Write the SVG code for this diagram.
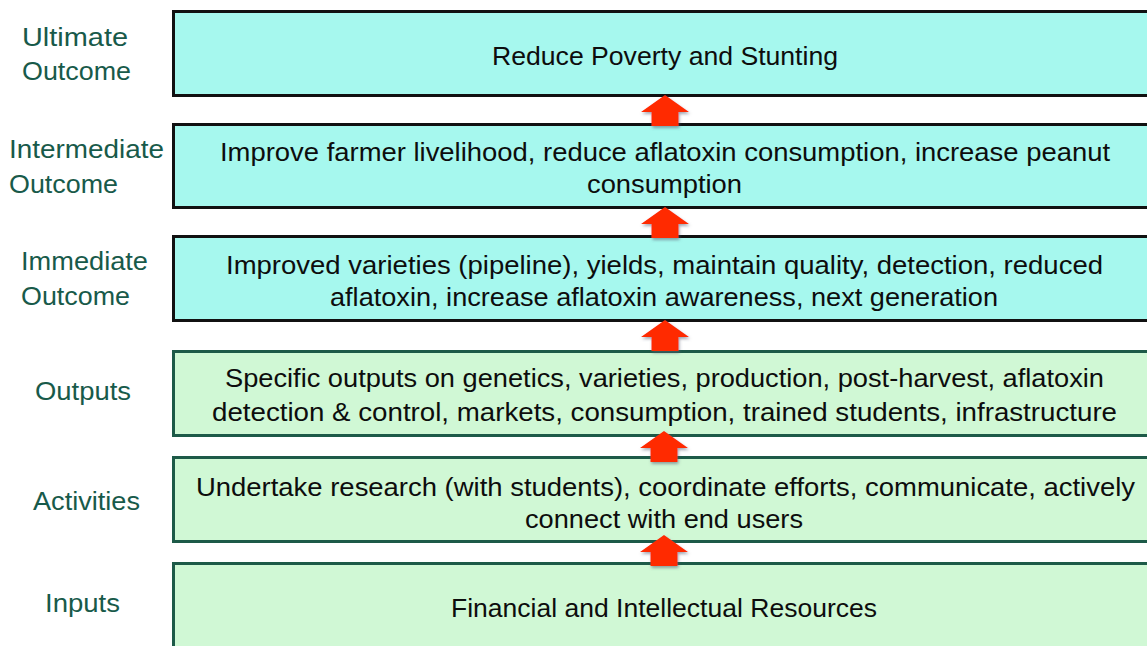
<svg xmlns="http://www.w3.org/2000/svg" width="1147" height="646" viewBox="0 0 1147 646">
  <defs>
    <style>
      .box { stroke-width: 3; }
      .outcome { fill: #a6f8ee; stroke: #111111; }
      .work { fill: #d0f8d5; stroke: #1d5a48; }
      .txt { font-family: "Liberation Sans", Arial, sans-serif; font-size: 26px; fill: #0d0d0d; }
      .lbl { font-family: "Liberation Sans", Arial, sans-serif; font-size: 26px; fill: #185a4a; }
      .up { fill: #ff2a00; filter: url(#shadow); }
    </style>
    <filter id="shadow" x="-30%" y="-30%" width="160%" height="170%">
      <feGaussianBlur in="SourceAlpha" stdDeviation="1.5"/>
      <feOffset dx="1" dy="2" result="off"/>
      <feFlood flood-color="#555a70" flood-opacity="0.55"/>
      <feComposite in2="off" operator="in"/>
      <feMerge>
        <feMergeNode/>
        <feMergeNode in="SourceGraphic"/>
      </feMerge>
    </filter>
    <path id="arrow" d="M0 0 L24 17 L13.5 17 L13.5 31 L-13.5 31 L-13.5 17 L-24 17 Z"/>
  </defs>
  <rect width="1147" height="646" fill="#ffffff"/>

  <!-- Row labels -->
  <g id="labels">
    <text class="lbl" x="22" y="46" textLength="106" lengthAdjust="spacingAndGlyphs">Ultimate</text>
    <text class="lbl" x="22" y="80" textLength="109" lengthAdjust="spacingAndGlyphs">Outcome</text>
    <text class="lbl" x="9" y="158" textLength="155" lengthAdjust="spacingAndGlyphs">Intermediate</text>
    <text class="lbl" x="9" y="193" textLength="109" lengthAdjust="spacingAndGlyphs">Outcome</text>
    <text class="lbl" x="21" y="270" textLength="127" lengthAdjust="spacingAndGlyphs">Immediate</text>
    <text class="lbl" x="21" y="305" textLength="109" lengthAdjust="spacingAndGlyphs">Outcome</text>
    <text class="lbl" x="35" y="400" textLength="96" lengthAdjust="spacingAndGlyphs">Outputs</text>
    <text class="lbl" x="33" y="510" textLength="107" lengthAdjust="spacingAndGlyphs">Activities</text>
    <text class="lbl" x="45" y="612" textLength="75" lengthAdjust="spacingAndGlyphs">Inputs</text>
  </g>

  <!-- Result chain boxes -->
  <g id="ultimate">
    <rect class="box outcome" x="173.5" y="11.5" width="980" height="84"/>
    <text class="txt" x="492" y="65" textLength="346" lengthAdjust="spacingAndGlyphs">Reduce Poverty and Stunting</text>
  </g>
  <g id="intermediate">
    <rect class="box outcome" x="173.5" y="124.5" width="980" height="83"/>
    <text class="txt" x="220" y="161" textLength="890" lengthAdjust="spacingAndGlyphs">Improve farmer livelihood, reduce aflatoxin consumption, increase peanut</text>
    <text class="txt" x="587" y="193" textLength="155" lengthAdjust="spacingAndGlyphs">consumption</text>
  </g>
  <g id="immediate">
    <rect class="box outcome" x="173.5" y="236.5" width="980" height="84"/>
    <text class="txt" x="226" y="274" textLength="877" lengthAdjust="spacingAndGlyphs">Improved varieties (pipeline), yields, maintain quality, detection, reduced</text>
    <text class="txt" x="330" y="306" textLength="668" lengthAdjust="spacingAndGlyphs">aflatoxin, increase aflatoxin awareness, next generation</text>
  </g>
  <g id="outputs">
    <rect class="box work" x="173.5" y="351.5" width="980" height="84"/>
    <text class="txt" x="225" y="387" textLength="879" lengthAdjust="spacingAndGlyphs">Specific outputs on genetics, varieties, production, post-harvest, aflatoxin</text>
    <text class="txt" x="212" y="421" textLength="905" lengthAdjust="spacingAndGlyphs">detection &amp; control, markets, consumption, trained students, infrastructure</text>
  </g>
  <g id="activities">
    <rect class="box work" x="173.5" y="457.5" width="980" height="84"/>
    <text class="txt" x="196" y="496" textLength="939" lengthAdjust="spacingAndGlyphs">Undertake research (with students), coordinate efforts, communicate, actively</text>
    <text class="txt" x="525" y="528" textLength="278" lengthAdjust="spacingAndGlyphs">connect with end users</text>
  </g>
  <g id="inputs">
    <rect class="box work" x="173.5" y="563.5" width="980" height="100"/>
    <text class="txt" x="451" y="617" textLength="426" lengthAdjust="spacingAndGlyphs">Financial and Intellectual Resources</text>
  </g>

  <!-- Upward block arrows between levels -->
  <g id="connectors">
    <use href="#arrow" class="up" x="665" y="95"/>
    <use href="#arrow" class="up" x="665" y="207"/>
    <use href="#arrow" class="up" x="665" y="320"/>
    <use href="#arrow" class="up" x="664" y="431"/>
    <use href="#arrow" class="up" x="664" y="535"/>
  </g>
</svg>
